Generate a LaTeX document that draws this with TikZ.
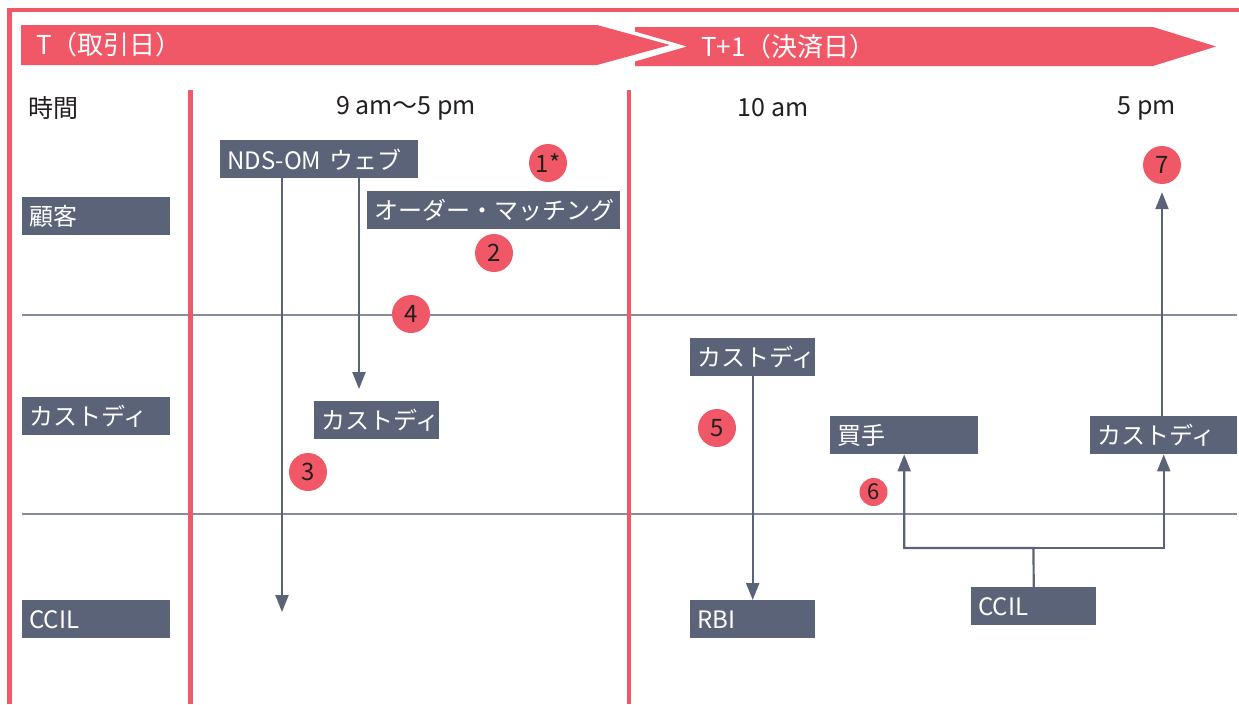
\documentclass[tikz,border=0pt]{standalone}
\usepackage{fontspec}
\setmainfont{Noto Sans CJK JP}
\usetikzlibrary{arrows.meta}
\definecolor{myred}{HTML}{F05767}
\definecolor{slate}{HTML}{5B6378}
\definecolor{sepgray}{HTML}{878C9D}
\definecolor{numtext}{HTML}{231F20}
\begin{document}
\begin{tikzpicture}[x=1pt,y=-1pt,
  box/.style={fill=slate, text=white, anchor=north west, inner xsep=7pt, inner ysep=0pt,
    align=left, font=\fontsize{24}{26}\selectfont},
  bannertext/.style={text=white, anchor=west, inner sep=0pt, font=\fontsize{26}{28}\selectfont},
  timetext/.style={text=numtext, inner sep=0pt, font=\fontsize{25}{27}\selectfont},
  circ/.style={circle, fill=myred, text=numtext, inner sep=0pt, minimum size=38pt, font=\fontsize{24}{26}\selectfont},
  circs/.style={circ, minimum size=28pt, font=\fontsize{22}{24}\selectfont},
  redline/.style={myred, line width=4.5pt},
  sepline/.style={sepgray, line width=1.5pt},
  conn/.style={slate, line width=2.2pt},
  arr/.style={conn, -{Triangle[length=17pt, width=13pt]}}
]
\useasboundingbox (0,0) rectangle (1239,704);
\fill[white] (0,0) rectangle (1239,704);

% banners
\fill[myred] (21,25) -- (597,25) -- (670,45) -- (597,65) -- (21,65) -- cycle;
\fill[myred] (635,27) -- (1153,27) -- (1216,46.5) -- (1153,66) -- (635,66) -- (635,61.5) -- (687,46.5) -- (635,31.5) -- cycle;
\node[bannertext] (bT) at (36,45) {T（取引日）};
\node[bannertext] (bT1) at (701,46.5) {T+1（決済日）};

% separators
\draw[sepline] (22,315) -- (1237,315);
\draw[sepline] (22,514) -- (1237,514);

% frame and dividers
\draw[redline, line join=miter] (9.5,704) -- (9.5,10) -- (1239,10);
\draw[redline] (190.5,90) -- (190.5,704);
\draw[redline] (629,90) -- (629,704);

% time labels
\node[timetext, anchor=west] (time) at (28,108) {時間};
\node[timetext] (t1) at (406,108) {9 am〜5 pm};
\node[timetext] (t2) at (773,108) {10 am};
\node[timetext] (t3) at (1147,108) {5 pm};

% row labels
\node[box, text width=134pt, minimum height=38pt] (kokyaku) at (22,197) {顧客};
\node[box, text width=134pt, minimum height=38pt] (custL) at (22,397) {カストディ};
\node[box, text width=134pt, minimum height=38pt] (ccilL) at (22,600) {CCIL};

% T boxes
\node[box, text width=184pt, minimum height=38pt] (nds) at (220,140) {NDS-OM ウェブ};
\node[box, text width=239pt, minimum height=38pt] (om) at (367,191) {オーダー・マッチング};
\node[box, text width=111pt, minimum height=38pt] (custM) at (314,401) {カストディ};

% T+1 boxes
\node[box, text width=111pt, minimum height=38pt] (custT) at (690,338) {カストディ};
\node[box, text width=111pt, minimum height=38pt] (rbi) at (690,600) {RBI};
\node[box, text width=134pt, minimum height=38pt] (buyer) at (830,416) {買手};
\node[box, text width=133pt, minimum height=38pt] (custR) at (1090,416) {カストディ};
\node[box, text width=111pt, minimum height=38pt] (ccilR) at (971,587) {CCIL};

% circles
\node[circ] (c1) at (548,163) {1*};
\node[circ] (c2) at (494,253) {2};
\node[circ] (c3) at (308,472) {3};
\node[circ] (c4) at (411,314) {4};
\node[circ] (c5) at (717,428) {5};
\node[circs] (c6) at (873.5,492) {6};
\node[circ] (c7) at (1162,165) {7};

% connectors
\coordinate (e3) at (282,612);
\coordinate (e2) at (359,389);
\coordinate (j) at (1033.5,548);
\draw[arr] (nds.south -| e3) -- (e3);
\draw[arr] (nds.south -| e2) -- (e2);
\draw[arr] (custT.south) -- (rbi.north);
\draw[arr] (ccilR.north) -- (j) -| (buyer.south);
\draw[arr] (j) -| (custR.south);
\draw[arr, shorten >=8pt] (custR.north -| c7) -- (c7.south);
\end{tikzpicture}
\end{document}
